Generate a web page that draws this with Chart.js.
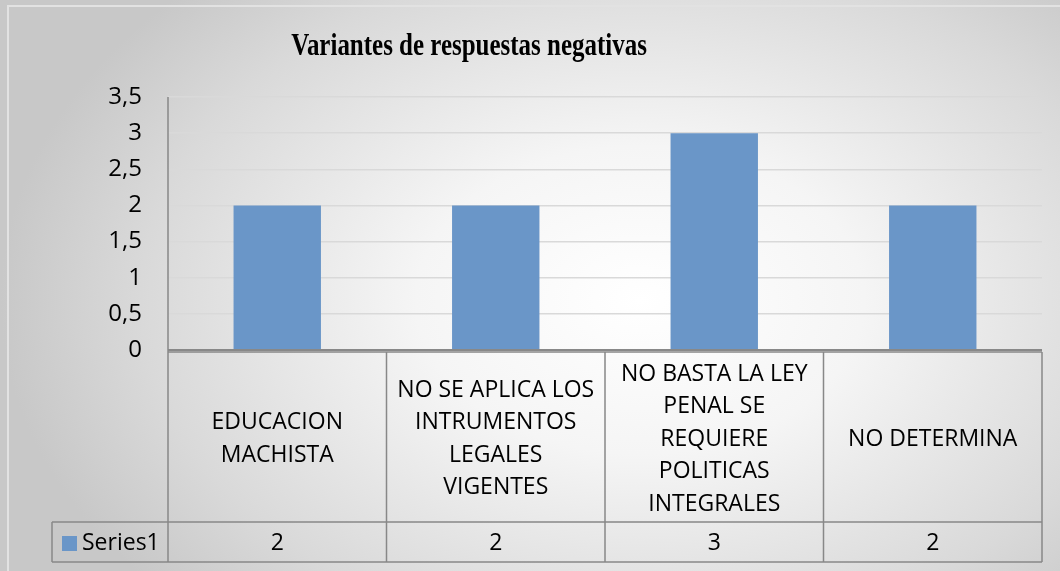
<!DOCTYPE html>
<html>
<head>
<meta charset="utf-8">
<script src="https://cdn.jsdelivr.net/npm/chart.js@4.4.0/dist/chart.umd.min.js"></script>
<style>
    html, body { margin: 0; padding: 0; background: #fff; }
    #wrap {
        position: relative;
        width: 1060px;
        height: 571px;
        background: radial-gradient(ellipse 640px 440px at 640px 300px, #ffffff 0%, #f5f5f5 35%, #d9d9d9 78%, #c8c8c8 100%);
    }
    #frame {
        position: absolute;
        left: 7px; top: 5px; width: 1060px; height: 600px;
        border-top: 2px solid #e2e2e2;
        border-left: 2px solid #e2e2e2;
        box-sizing: border-box;
    }
    canvas { position: absolute; left: 0; top: 0; }
</style>
</head>
<body>
<div id="wrap">
    <div id="frame"></div>
    <canvas id="myChart" width="1060" height="571"></canvas>
</div>
<script>
// datos del grafico
const chartTitle = 'Variantes de respuestas negativas';
const seriesName = 'Series1';
const categories = [
    ['EDUCACION', 'MACHISTA'],
    ['NO SE APLICA LOS', 'INTRUMENTOS', 'LEGALES', 'VIGENTES'],
    ['NO BASTA LA LEY', 'PENAL SE', 'REQUIERE', 'POLITICAS', 'INTEGRALES'],
    ['NO DETERMINA']
];
const values = [2, 2, 3, 2];
const tickLabels = ['0', '0,5', '1', '1,5', '2', '2,5', '3', '3,5'];

const barColor = '#6a96c8';
const lineColor = '#888888';
const textFont = '"Open Sans", "Noto Sans", sans-serif';

// tabla de datos debajo del grafico
const dataTablePlugin = {
    id: 'dataTable',
    afterDraw(chart) {
        const ctx = chart.ctx;
        const area = chart.chartArea;
        const x = chart.scales.x;
        const half = (x.getPixelForValue(1) - x.getPixelForValue(0)) / 2;
        const top = area.bottom + 2;
        const mid = 522;
        const bottom = 562;
        const legendLeft = 52;

        ctx.save();
        ctx.strokeStyle = lineColor;
        ctx.lineWidth = 1.5;
        // lineas horizontales
        ctx.beginPath();
        ctx.moveTo(area.left, top); ctx.lineTo(area.right, top);
        ctx.moveTo(legendLeft, mid); ctx.lineTo(area.right, mid);
        ctx.moveTo(legendLeft, bottom); ctx.lineTo(area.right, bottom);
        ctx.moveTo(legendLeft, mid); ctx.lineTo(legendLeft, bottom);
        ctx.stroke();
        // lineas verticales
        ctx.beginPath();
        ctx.moveTo(area.left, area.top); ctx.lineTo(area.left, bottom);
        categories.forEach((c, i) => {
            const r = x.getPixelForValue(i) + half;
            ctx.moveTo(r, top); ctx.lineTo(r, bottom);
        });
        ctx.stroke();
        // linea del eje en cero
        ctx.beginPath();
        ctx.lineWidth = 2;
        ctx.moveTo(area.left, area.bottom); ctx.lineTo(area.right, area.bottom);
        ctx.stroke();

        ctx.fillStyle = '#000';
        ctx.textAlign = 'center';
        ctx.textBaseline = 'middle';
        ctx.font = '23px ' + textFont;
        const lh = 32.5;
        categories.forEach((lines, i) => {
            const cx = x.getPixelForValue(i);
            const cy = (top + mid) / 2 + 2;
            lines.forEach((t, j) => {
                ctx.fillText(t, cx, cy + (j - (lines.length - 1) / 2) * lh);
            });
            ctx.fillText(String(values[i]), cx, (mid + bottom) / 2 + 1);
        });
        // leyenda
        ctx.fillStyle = barColor;
        ctx.fillRect(62, 536, 15, 15);
        ctx.fillStyle = '#000';
        ctx.textAlign = 'left';
        ctx.fillText(seriesName, 82, (mid + bottom) / 2 + 1);
        ctx.restore();
    }
};

// titulo condensado
const titlePlugin = {
    id: 'condTitle',
    afterDraw(chart) {
        const ctx = chart.ctx;
        ctx.save();
        ctx.fillStyle = '#000';
        ctx.textAlign = 'center';
        ctx.textBaseline = 'alphabetic';
        ctx.font = 'bold 32px "Liberation Serif", "Times New Roman", serif';
        ctx.translate(469, 55);
        ctx.scale(0.78, 1);
        ctx.fillText(chartTitle, 0, 0);
        ctx.restore();
    }
};

const ctx = document.getElementById('myChart').getContext('2d');
new Chart(ctx, {
    type: 'bar',
    data: {
        labels: categories,
        datasets: [{
            label: seriesName,
            data: values,
            backgroundColor: barColor,
            borderWidth: 0,
            categoryPercentage: 1,
            barPercentage: 0.4
        }]
    },
    options: {
        responsive: false,
        animation: false,
        layout: {
            padding: { left: 0, top: 97, right: 18, bottom: 221 }
        },
        plugins: {
            legend: { display: false },
            title: { display: false },
            tooltip: { enabled: false }
        },
        scales: {
            x: {
                display: false,
                grid: { display: false }
            },
            y: {
                min: 0,
                max: 3.5,
                afterFit(scale) { scale.width = 168; },
                border: { display: false },
                grid: { color: '#d9d9d9', lineWidth: 1.5, drawTicks: false },
                ticks: {
                    stepSize: 0.5,
                    padding: 26,
                    color: '#000',
                    font: { family: textFont, size: 24 },
                    callback: (v, i) => tickLabels[i]
                }
            }
        }
    },
    plugins: [dataTablePlugin, titlePlugin]
});
</script>
</body>
</html>
